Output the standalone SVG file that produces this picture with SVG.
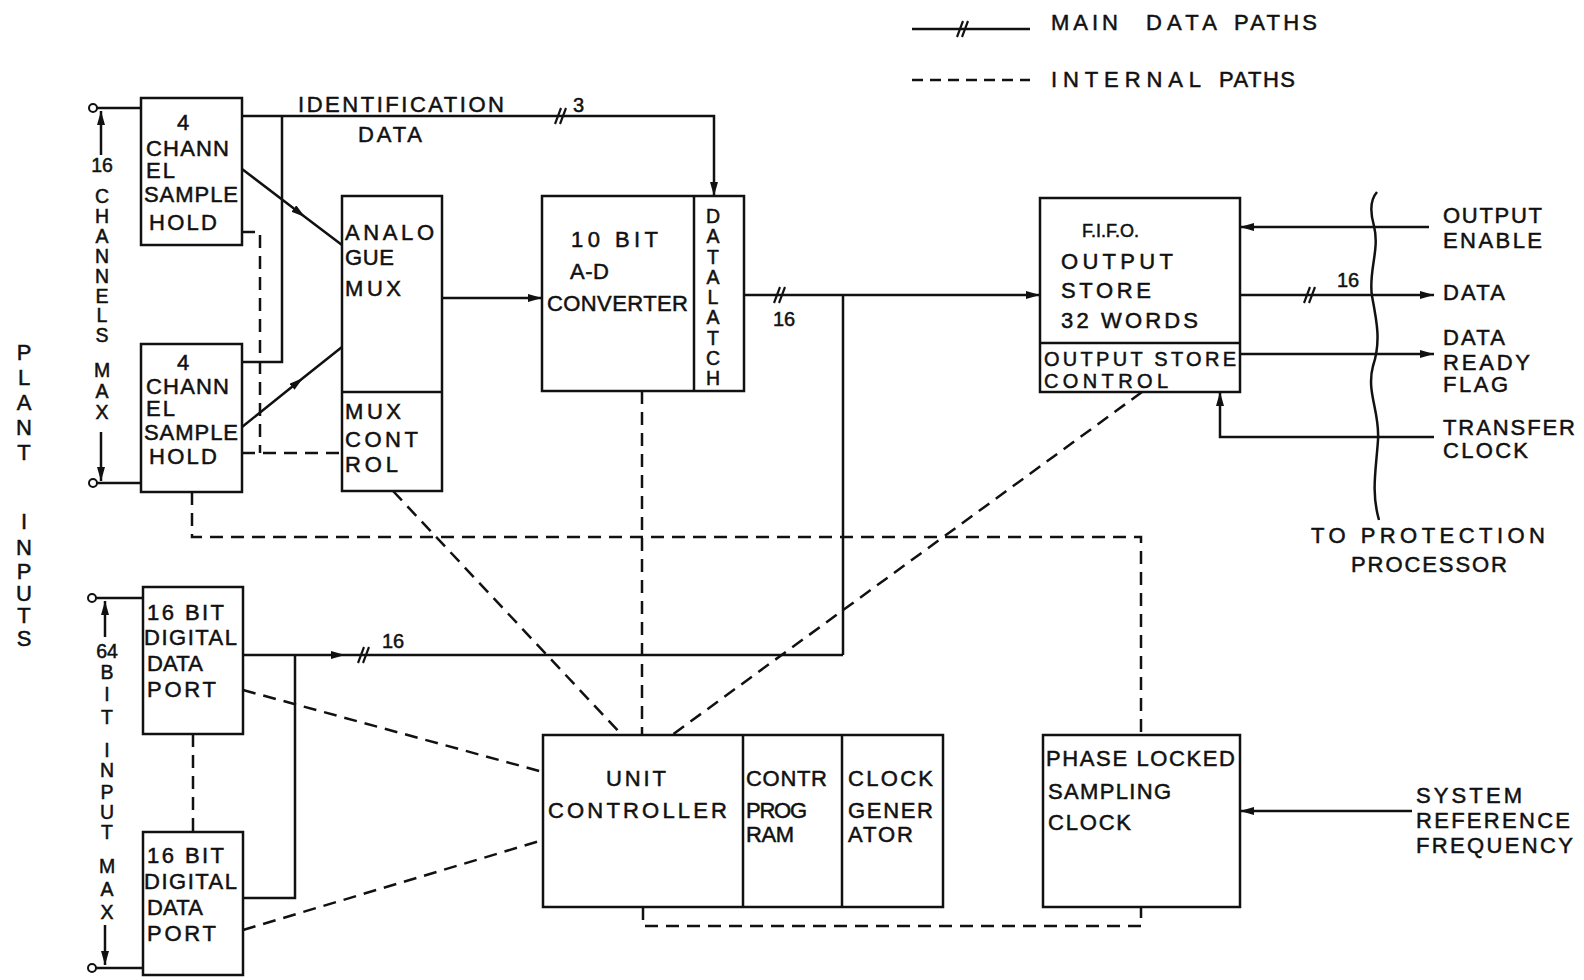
<svg xmlns="http://www.w3.org/2000/svg" width="1584" height="980" viewBox="0 0 1584 980">
<defs>
<style>
text{font-family:"Liberation Sans",Arial,sans-serif;font-size:22px;fill:#111;stroke:#111;stroke-width:0.5px;letter-spacing:1px}
.v{font-size:19.5px;text-anchor:middle;letter-spacing:0}
.p{font-size:22px;text-anchor:middle;letter-spacing:0}
.sm{font-size:20px;letter-spacing:0}
.osc{font-size:20px}
.box{fill:#fff;stroke:#111;stroke-width:2.5}
.dv{fill:none;stroke:#111;stroke-width:2.5}
.ln{fill:none;stroke:#111;stroke-width:2.5}
.ds{fill:none;stroke:#111;stroke-width:2.5;stroke-dasharray:13 8}
.ar{marker-end:url(#ah)}
.am{marker-mid:url(#ah)}
.term{fill:#fff;stroke:#111;stroke-width:2}
</style>
<marker id="ah" markerUnits="userSpaceOnUse" markerWidth="16" markerHeight="10" refX="14" refY="4" orient="auto"><path d="M0,0 L14,4 L0,8 Z" fill="#111"/></marker>
<g id="sl"><line x1="-6" y1="8" x2="0" y2="-8" stroke="#111" stroke-width="2.2"/><line x1="-1" y1="8" x2="5" y2="-8" stroke="#111" stroke-width="2.2"/></g>
</defs>
<rect width="1584" height="980" fill="#fff"/>

<g id="legend">
<path class="ln" d="M912,29 H1030"/>
<use href="#sl" x="963" y="29"/>
<text y="30"><tspan x="1051" textLength="68" lengthAdjust="spacing">MAIN</tspan><tspan x="1146" textLength="72" lengthAdjust="spacing">DATA</tspan><tspan x="1234" textLength="84" lengthAdjust="spacing">PATHS</tspan></text>
<path class="ds" d="M912,80 H1030" style="stroke-dasharray:11 7"/>
<text y="87"><tspan x="1051" textLength="151" lengthAdjust="spacing">INTERNAL</tspan><tspan x="1219" textLength="77" lengthAdjust="spacing">PATHS</tspan></text>
</g>

<g id="connectors">
<path class="ln ar" d="M242,116 H714 V196"/>
<use href="#sl" x="561" y="116"/>
<path class="ln" d="M282,116 V362 H242"/>
<path class="ln am" d="M242,169 L305,217 L342,245"/>
<path class="ln am" d="M242,427 L303,378 L342,347"/>
<path class="ln ar" d="M442,298 H542"/>
<path class="ln ar" d="M744,295 H1040"/>
<use href="#sl" x="780" y="295"/>
<path class="ln" d="M843,295 V655"/>
<path class="ln am" d="M243,655 L345,655 L843,655"/>
<use href="#sl" x="364" y="655"/>
<path class="ln" d="M243,898 H295 V655"/>
<path class="ln ar" d="M1429,227 H1240"/>
<path class="ln ar" d="M1240,295 H1434"/>
<use href="#sl" x="1310" y="295"/>
<path class="ln ar" d="M1240,354 H1434"/>
<path class="ln ar" d="M1434,437 H1220 V392"/>
<path class="ln ar" d="M1412,811 H1240"/>
<path class="ln" d="M1377,192 C1370,200 1370,212 1374,226 C1380,250 1368,272 1372,296 C1377,322 1381,342 1373,366 C1366,392 1380,412 1378,440 C1376,470 1371,492 1379,520"/>
<path class="ln" d="M97,108 H141 M97,483 H141 M96,598 H143 M96,968 H143"/>
<circle class="term" cx="93" cy="108" r="4"/>
<circle class="term" cx="93" cy="483" r="4"/>
<circle class="term" cx="92" cy="598" r="4"/>
<circle class="term" cx="92" cy="968" r="4"/>
<path class="ln ar" d="M101,155 V111"/>
<path class="ln ar" d="M101,432 V481"/>
<path class="ln ar" d="M105,637 V601"/>
<path class="ln ar" d="M105,925 V965"/>
<path class="ds" d="M242,232 H260 V453"/>
<path class="ds" d="M242,453 H342"/>
<path class="ds" d="M192,492 V537 H1141 V735"/>
<path class="ds" d="M642,391 V735"/>
<path class="ds" d="M393,491 L622,735"/>
<path class="ds" d="M1142,392 L672,735"/>
<path class="ds" d="M243,690 L543,772"/>
<path class="ds" d="M243,930 L543,840"/>
<path class="ds" d="M193,734 V832"/>
<path class="ds" d="M643,907 V926 H1141 V907"/>
</g>

<g id="labels">
<text x="573" y="112" class="sm">3</text>
<text x="773" y="326" class="sm">16</text>
<text x="382" y="648" class="sm">16</text>
<text x="1337" y="287" class="sm">16</text>
<text x="298" y="112" textLength="207" lengthAdjust="spacing">IDENTIFICATION</text>
<text x="358" y="142" textLength="65" lengthAdjust="spacing">DATA</text>
<text class="v"><tspan x="102" y="172">16</tspan><tspan x="102" y="203">C</tspan><tspan x="102" y="223">H</tspan><tspan x="102" y="243">A</tspan><tspan x="102" y="263">N</tspan><tspan x="102" y="283">N</tspan><tspan x="102" y="303">E</tspan><tspan x="102" y="322">L</tspan><tspan x="102" y="342">S</tspan><tspan x="102" y="377">M</tspan><tspan x="102" y="398">A</tspan><tspan x="102" y="419">X</tspan></text>
<text class="v"><tspan x="107" y="658">64</tspan><tspan x="107" y="679">B</tspan><tspan x="107" y="701">I</tspan><tspan x="107" y="724">T</tspan><tspan x="107" y="757">I</tspan><tspan x="107" y="777">N</tspan><tspan x="107" y="799">P</tspan><tspan x="107" y="819">U</tspan><tspan x="107" y="839">T</tspan><tspan x="107" y="873">M</tspan><tspan x="107" y="896">A</tspan><tspan x="107" y="919">X</tspan></text>
<text class="p"><tspan x="24" y="360">P</tspan><tspan x="24" y="385">L</tspan><tspan x="24" y="410">A</tspan><tspan x="24" y="435">N</tspan><tspan x="24" y="460">T</tspan><tspan x="24" y="529">I</tspan><tspan x="24" y="555">N</tspan><tspan x="24" y="579">P</tspan><tspan x="24" y="601">U</tspan><tspan x="24" y="623">T</tspan><tspan x="24" y="646">S</tspan></text>
<text x="1443" y="223" textLength="100" lengthAdjust="spacing">OUTPUT</text>
<text x="1443" y="248" textLength="100" lengthAdjust="spacing">ENABLE</text>
<text x="1443" y="300" textLength="63" lengthAdjust="spacing">DATA</text>
<text x="1443" y="345" textLength="63" lengthAdjust="spacing">DATA</text>
<text x="1443" y="370" textLength="88" lengthAdjust="spacing">READY</text>
<text x="1443" y="392" textLength="66" lengthAdjust="spacing">FLAG</text>
<text x="1443" y="435" textLength="133" lengthAdjust="spacing">TRANSFER</text>
<text x="1443" y="458" textLength="86" lengthAdjust="spacing">CLOCK</text>
<text x="1311" y="543" textLength="235" lengthAdjust="spacing">TO PROTECTION</text>
<text x="1351" y="572" textLength="157" lengthAdjust="spacing">PROCESSOR</text>
<text x="1416" y="803" textLength="107" lengthAdjust="spacing">SYSTEM</text>
<text x="1416" y="828" textLength="155" lengthAdjust="spacing">REFERENCE</text>
<text x="1416" y="853" textLength="158" lengthAdjust="spacing">FREQUENCY</text>
</g>

<g id="sh1">
<rect class="box" x="141" y="98" width="101" height="147"/>
<text x="177" y="130">4</text>
<text x="146" y="156" textLength="84" lengthAdjust="spacing">CHANN</text>
<text x="146" y="178" textLength="30" lengthAdjust="spacing">EL</text>
<text x="144" y="202" textLength="95" lengthAdjust="spacing">SAMPLE</text>
<text x="149" y="230" textLength="69" lengthAdjust="spacing">HOLD</text>
</g>
<g id="sh2">
<rect class="box" x="141" y="344" width="101" height="148"/>
<text x="177" y="370">4</text>
<text x="146" y="394" textLength="84" lengthAdjust="spacing">CHANN</text>
<text x="146" y="416" textLength="30" lengthAdjust="spacing">EL</text>
<text x="144" y="440" textLength="95" lengthAdjust="spacing">SAMPLE</text>
<text x="149" y="464" textLength="69" lengthAdjust="spacing">HOLD</text>
</g>
<g id="mux">
<rect class="box" x="342" y="196" width="100" height="295"/>
<path class="dv" d="M342,392 H442"/>
<text x="345" y="240" textLength="90" lengthAdjust="spacing">ANALO</text>
<text x="345" y="265" textLength="50" lengthAdjust="spacing">GUE</text>
<text x="345" y="296" textLength="57" lengthAdjust="spacing">MUX</text>
<text x="345" y="419" textLength="57" lengthAdjust="spacing">MUX</text>
<text x="345" y="447" textLength="74" lengthAdjust="spacing">CONT</text>
<text x="345" y="472" textLength="54" lengthAdjust="spacing">ROL</text>
</g>
<g id="adc">
<rect class="box" x="542" y="196" width="202" height="195"/>
<path class="dv" d="M694,196 V391"/>
<text x="571" y="247" textLength="88" lengthAdjust="spacing">10 BIT</text>
<text x="570" y="279" textLength="40" lengthAdjust="spacing">A-D</text>
<text x="547" y="311" textLength="142" lengthAdjust="spacing">CONVERTER</text>
<text class="v"><tspan x="713" y="223">D</tspan><tspan x="713" y="243">A</tspan><tspan x="713" y="264">T</tspan><tspan x="713" y="284">A</tspan><tspan x="713" y="304">L</tspan><tspan x="713" y="324">A</tspan><tspan x="713" y="345">T</tspan><tspan x="713" y="365">C</tspan><tspan x="713" y="385">H</tspan></text>
</g>
<g id="fifo">
<rect class="box" x="1040" y="198" width="200" height="194"/>
<path class="dv" d="M1040,343 H1240"/>
<text x="1082" y="237" style="font-size:18px;letter-spacing:0">F.I.F.O.</text>
<text x="1061" y="269" textLength="113" lengthAdjust="spacing">OUTPUT</text>
<text x="1061" y="298" textLength="91" lengthAdjust="spacing">STORE</text>
<text x="1061" y="328" textLength="138" lengthAdjust="spacing">32 WORDS</text>
<text class="osc" x="1044" y="366" textLength="193" lengthAdjust="spacing">OUTPUT STORE</text>
<text class="osc" x="1044" y="388" textLength="125" lengthAdjust="spacing">CONTROL</text>
</g>
<g id="ddp1">
<rect class="box" x="143" y="587" width="100" height="147"/>
<text x="147" y="620" textLength="78" lengthAdjust="spacing">16 BIT</text>
<text x="144" y="645" textLength="94" lengthAdjust="spacing">DIGITAL</text>
<text x="147" y="671" textLength="57" lengthAdjust="spacing">DATA</text>
<text x="147" y="697" textLength="70" lengthAdjust="spacing">PORT</text>
</g>
<g id="ddp2">
<rect class="box" x="143" y="832" width="100" height="143"/>
<text x="147" y="863" textLength="78" lengthAdjust="spacing">16 BIT</text>
<text x="144" y="889" textLength="94" lengthAdjust="spacing">DIGITAL</text>
<text x="147" y="915" textLength="57" lengthAdjust="spacing">DATA</text>
<text x="147" y="941" textLength="70" lengthAdjust="spacing">PORT</text>
</g>
<g id="uc">
<rect class="box" x="543" y="735" width="400" height="172"/>
<path class="dv" d="M743,735 V907 M842,735 V907"/>
<text x="606" y="786" textLength="61" lengthAdjust="spacing">UNIT</text>
<text x="548" y="818" textLength="180" lengthAdjust="spacing">CONTROLLER</text>
<text x="746" y="786" textLength="82" lengthAdjust="spacing">CONTR</text>
<text x="746" y="818" textLength="62" lengthAdjust="spacing">PROG</text>
<text x="746" y="842" textLength="49" lengthAdjust="spacing">RAM</text>
<text x="848" y="786" textLength="86" lengthAdjust="spacing">CLOCK</text>
<text x="848" y="818" textLength="86" lengthAdjust="spacing">GENER</text>
<text x="848" y="842" textLength="66" lengthAdjust="spacing">ATOR</text>
</g>
<g id="pll">
<rect class="box" x="1043" y="735" width="197" height="172"/>
<text x="1046" y="766" textLength="190" lengthAdjust="spacing">PHASE LOCKED</text>
<text x="1048" y="799" textLength="124" lengthAdjust="spacing">SAMPLING</text>
<text x="1048" y="830" textLength="84" lengthAdjust="spacing">CLOCK</text>
</g>
</svg>
